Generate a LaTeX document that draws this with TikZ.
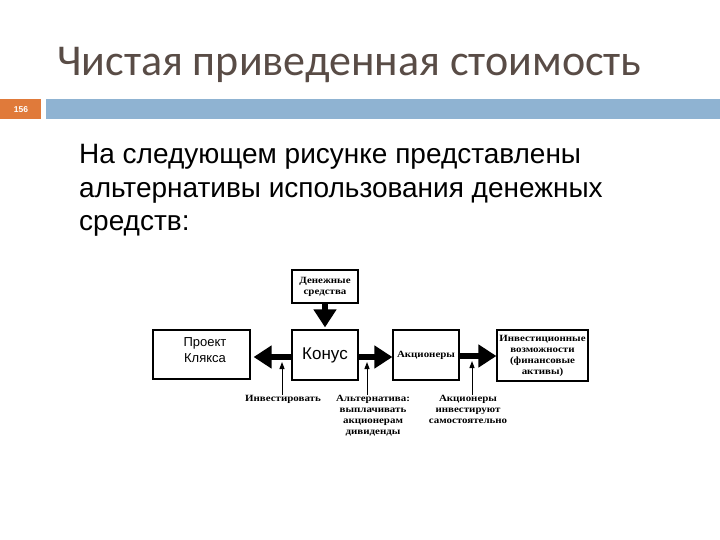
\documentclass[tikz,border=0pt]{standalone}
\usepackage{fontspec}
\setmainfont{Liberation Sans}
\newfontfamily\titlefont{Carlito}
\newfontfamily\scanfont[FakeStretch=1.15]{Liberation Serif}
\usetikzlibrary{arrows.meta}
\definecolor{titlecol}{RGB}{89,76,70}
\definecolor{barblue}{RGB}{143,179,210}
\definecolor{barorange}{RGB}{224,122,58}
\tikzset{
  box/.style={draw=black, line width=1.2pt, inner sep=0pt, align=center},
  scantext/.style={font=\scanfont\bfseries\fontsize{9.5}{11}\selectfont, align=center, inner sep=0pt},
  thick arrow/.style={line width=5.5pt, -{Triangle[length=18pt,width=22pt]}},
  thin arrow/.style={line width=1pt, -{Triangle[length=7pt,width=5pt]}},
  bodyline/.style={anchor=base west, inner sep=0pt, font=\fontsize{28}{32}\selectfont}
}
\begin{document}
\begin{tikzpicture}[x=1pt,y=-1pt]
\useasboundingbox (0,0) rectangle (720,540);
\fill[white] (0,0) rectangle (720,540);
% title
\node[anchor=base west, inner sep=0pt, text=titlecol, font=\titlefont\fontsize{44}{50}\selectfont] (title) at (57,76) {Чистая приведенная стоимость};
% header bars
\fill[barorange] (0,99) rectangle (41,119);
\fill[barblue] (46,99) rectangle (720,119);
\node[text=white, font=\bfseries\fontsize{8.5}{9}\selectfont, inner sep=0pt] (pnum) at (21,110) {156};
% body text
\node[bodyline] (b1) at (79,164) {На следующем рисунке представлены};
\node[bodyline] (b2) at (79,197) {альтернативы использования денежных};
\node[bodyline] (b3) at (79,230) {средств:};
% boxes
\node[box, minimum width=66pt, minimum height=33pt, scantext] (money) at (325,286.5) {Денежные\\средства};
\node[box, minimum width=66pt, minimum height=50pt, font=\fontsize{17}{19}\selectfont] (konus) at (325,355) {Конус};
\node[box, minimum width=97pt, minimum height=49pt] (klyaksa) at (201.5,354.5) {};
\node[align=center, inner sep=0pt, font=\fontsize{13}{15.5}\selectfont] (klyaksat) at (205,350) {Проект\\Клякса};
\node[box, minimum width=66pt, minimum height=50pt, scantext] (akc) at (426,355) {Акционеры};
\node[box, minimum width=91pt, minimum height=51pt, scantext] (invest) at (542.5,355.5) {Инвестиционные\\возможности\\(финансовые\\активы)};
% thick arrows
\draw[line width=5.5pt] (money.south) -- ++(0,8);
\draw[thick arrow, shorten >=2pt] (money.south) -- (konus.north);
\draw[thick arrow, shorten >=3pt] (konus.west |- 0,357) -- (klyaksa.east |- 0,357);
\draw[thick arrow] (konus.east |- 0,357) -- (akc.west |- 0,357);
\draw[thick arrow] (akc.east |- 0,356) -- (invest.west |- 0,356);
% labels
\node[scantext, anchor=north] (linv) at (283,395) {Инвестировать};
\node[scantext, anchor=north] (lalt) at (373,395) {Альтернатива:\\выплачивать\\акционерам\\дивиденды};
\node[scantext, anchor=north] (lself) at (468,395) {Акционеры\\инвестируют\\самостоятельно};
\coordinate (tinv) at (282,362);
\coordinate (talt) at (367,362);
\coordinate (tself) at (472,361);
\draw[thin arrow] (linv.north -| tinv) -- (tinv);
\draw[thin arrow] (lalt.north -| talt) -- (talt);
\draw[thin arrow] (lself.north -| tself) -- (tself);
\end{tikzpicture}
\end{document}
